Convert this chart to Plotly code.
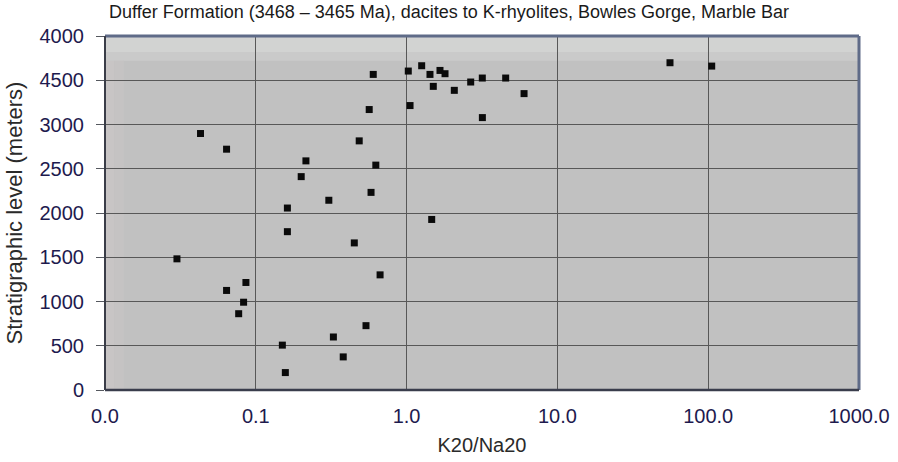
import plotly.graph_objects as go

# K2O/Na2O ratio and stratigraphic level for each sample
k2o_na2o = [0.030, 0.043, 0.064, 0.064, 0.086, 0.083, 0.077, 0.162, 0.162, 0.150,
            0.157, 0.215, 0.200, 0.305, 0.327, 0.380, 0.450, 0.485, 0.538, 0.565,
            0.601, 0.625, 0.581, 0.667, 1.026, 1.054, 1.259, 1.429, 1.503, 1.665,
            1.798, 2.072, 1.467, 2.661, 3.177, 3.180, 4.540, 6.010, 55.8, 105.5]
strat_level = [1482, 2898, 2721, 1125, 1215, 992, 862, 2056, 1789, 507,
               197, 2589, 2411, 2144, 599, 374, 1662, 2815, 727, 3169,
               3566, 2541, 2233, 1301, 3604, 3214, 3664, 3566, 3431, 3611,
               3574, 3386, 1927, 3480, 3525, 3078, 3525, 3349, 3698, 3660]

x_tickvals = [0.01, 0.1, 1, 10, 100, 1000]
x_ticktext = ["0.0", "0.1", "1.0", "10.0", "100.0", "1000.0"]
y_tickvals = [0, 500, 1000, 1500, 2000, 2500, 3000, 3500, 4000]
y_ticktext = ["0", "500", "1000", "1500", "2000", "2500", "3000", "4500", "4000"]

FONT = "Liberation Sans, Arial, sans-serif"
TICK_COLOR = "#1e1a4e"
GRID = "#585858"

fig = go.Figure()
fig.add_trace(go.Scatter(
    x=k2o_na2o, y=strat_level, mode="markers",
    marker=dict(symbol="square", size=7, color="#0a0a0a", line=dict(width=0)),
    showlegend=False, hoverinfo="x+y",
))

# lighter band along the top and a faint light strip on the left of the plotting area
shapes = []
band = [("#d2d3d2", 0.955, 1.0), ("#cacaca", 0.93, 0.955)]
for col, y0, y1 in band:
    shapes.append(dict(type="rect", xref="paper", yref="paper", x0=0, x1=1,
                       y0=y0, y1=y1, fillcolor=col, line=dict(width=0), layer="below"))
strip = [("#c8c5c5", 0.0, 0.012), ("#c5c3c3", 0.012, 0.025)]
for col, x0, x1 in strip:
    shapes.append(dict(type="rect", xref="paper", yref="paper", x0=x0, x1=x1,
                       y0=0, y1=0.93, fillcolor=col, line=dict(width=0), layer="below"))

# frame around the plotting area
shapes += [
    dict(type="line", xref="paper", yref="paper", x0=0, x1=1, y0=1, y1=1,
         line=dict(color="#5f6b88", width=3)),
    dict(type="line", xref="paper", yref="paper", x0=1, x1=1, y0=0, y1=1,
         line=dict(color="#5f6b88", width=3)),
    dict(type="line", xref="paper", yref="paper", x0=0, x1=0, y0=0, y1=1,
         line=dict(color="#3a3d48", width=2)),
    dict(type="line", xref="paper", yref="paper", x0=0, x1=1, y0=0, y1=0,
         line=dict(color="#3a3d4c", width=2.5)),
]

fig.update_layout(
    width=898, height=462,
    margin=dict(l=105, r=39, t=36, b=72),
    paper_bgcolor="white", plot_bgcolor="#c1c1c1",
    font=dict(family=FONT),
    title=dict(text="Duffer Formation (3468 – 3465 Ma), dacites to K-rhyolites, Bowles Gorge, Marble Bar",
               x=0.5, xref="container", xanchor="center",
               y=1 - 12 / 462, yref="container", yanchor="middle",
               font=dict(size=18, color="#1a1a1a", family=FONT)),
    shapes=shapes,
)

fig.update_xaxes(
    type="log", range=[-2, 3], automargin=False,
    tickvals=x_tickvals, ticktext=x_ticktext,
    tickfont=dict(size=20, color=TICK_COLOR),
    showgrid=True, gridcolor=GRID, gridwidth=1,
    showline=False, zeroline=False, ticks="",
    ticklabelstandoff=12,
    title=dict(text="K20/Na20", font=dict(size=20, color="#2a2a2a"), standoff=11),
)
fig.update_yaxes(
    range=[0, 4000], automargin=False,
    tickvals=y_tickvals, ticktext=y_ticktext,
    tickfont=dict(size=20, color=TICK_COLOR),
    showgrid=True, gridcolor=GRID, gridwidth=1,
    showline=False, zeroline=False,
    ticks="outside", ticklen=8, tickcolor="#55585f", tickwidth=1,
    ticklabelstandoff=8,
    title=dict(text="Stratigraphic level (meters)", font=dict(size=22, color="#2a2a2a"), standoff=10),
)

fig.write_html("out.html")
